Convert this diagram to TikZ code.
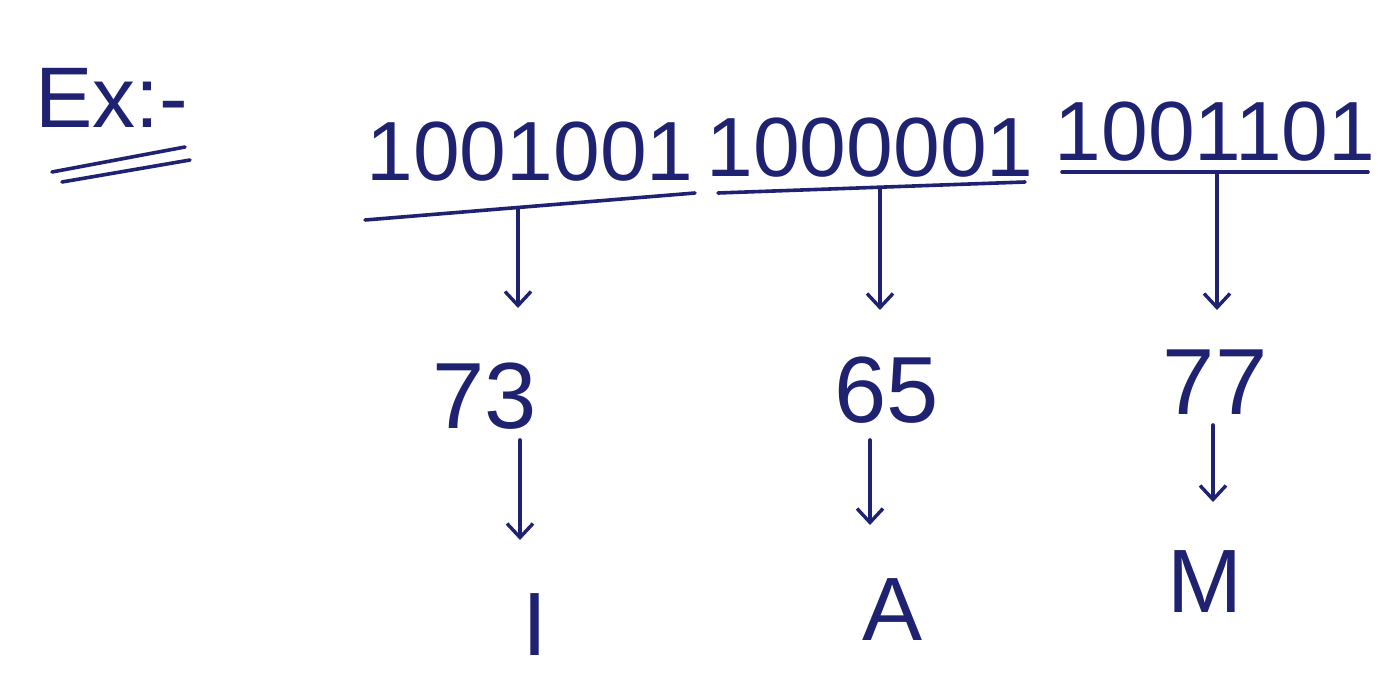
\documentclass[tikz,border=0pt]{standalone}
\usepackage{fontspec}
\setmainfont{Liberation Sans}
\usetikzlibrary{arrows.meta}
\definecolor{ink}{HTML}{1E2270}
\tikzset{
  ink/.style={draw=ink, line width=3.6pt, line cap=round, line join=round},
  bits/.style={text=ink, inner sep=0pt, font=\fontsize{84}{84}\selectfont},
  num/.style={text=ink, inner sep=0pt, font=\fontsize{94}{94}\selectfont},
  letter/.style={text=ink, inner sep=0pt, font=\fontsize{90}{90}\selectfont},
  down/.style={ink, -{Straight Barb[length=14pt, width=26pt, line width=3.4pt]}},
}
\begin{document}
\begin{tikzpicture}[x=1pt, y=-1pt]
  \useasboundingbox (0,0) rectangle (1391,696);

  % heading with its double underline
  \node[text=ink, inner sep=0pt, font=\fontsize{86}{86}\selectfont] (ex) at (112,98) {Ex:-};
  \coordinate (u1a) at (52,172);
  \coordinate (u1b) at (185,147);
  \coordinate (u2a) at (62,182);
  \coordinate (u2b) at (190,160);
  \draw[ink] (u1a) -- (u1b);
  \draw[ink] (u2a) -- (u2b);

  % the three 7-bit groups
  \node[bits] (b1) at (530,152) {1001001};
  \node[bits] (b2) at (870,148) {1000001};
  \node[bits] (b3) at (1215,132) {1001101};

  % underlines of the groups
  \coordinate (l1a) at (365,220);
  \coordinate (l1b) at (695,193);
  \coordinate (l2a) at (718,193);
  \coordinate (l2b) at (1025,182);
  \coordinate (l3a) at (1062,172);
  \coordinate (l3b) at (1368,172);
  \draw[ink] (l1a) -- (l1b);
  \draw[ink] (l2a) -- (l2b);
  \draw[ink] (l3a) -- (l3b);
  \coordinate (m1) at (518,208);
  \coordinate (m2) at (880,188);
  \coordinate (m3) at (1217,172);

  % decimal values
  \node[num] (d1) at (485,396) {73};
  \node[num] (d2) at (887,390) {65};
  \node[num] (d3) at (1215,382) {77};

  % characters
  \node[letter] (c1) at (535,625) {I};
  \node[letter] (c2) at (893,610) {A};
  \node[letter] (c3) at (1205,582) {M};

  % arrow tips and tails
  \coordinate (t1) at (518,308);
  \coordinate (t2) at (880,310);
  \coordinate (t3) at (1217,310);
  \coordinate (s1) at (520,440);
  \coordinate (s2) at (870,440);
  \coordinate (s3) at (1213,425);
  \coordinate (e1) at (520,540);
  \coordinate (e2) at (870,525);
  \coordinate (e3) at (1213,502);

  \draw[down] (m1) -- (t1);
  \draw[down] (m2) -- (t2);
  \draw[down] (m3) -- (t3);
  \draw[down] (s1) -- (e1);
  \draw[down] (s2) -- (e2);
  \draw[down] (s3) -- (e3);
\end{tikzpicture}
\end{document}
